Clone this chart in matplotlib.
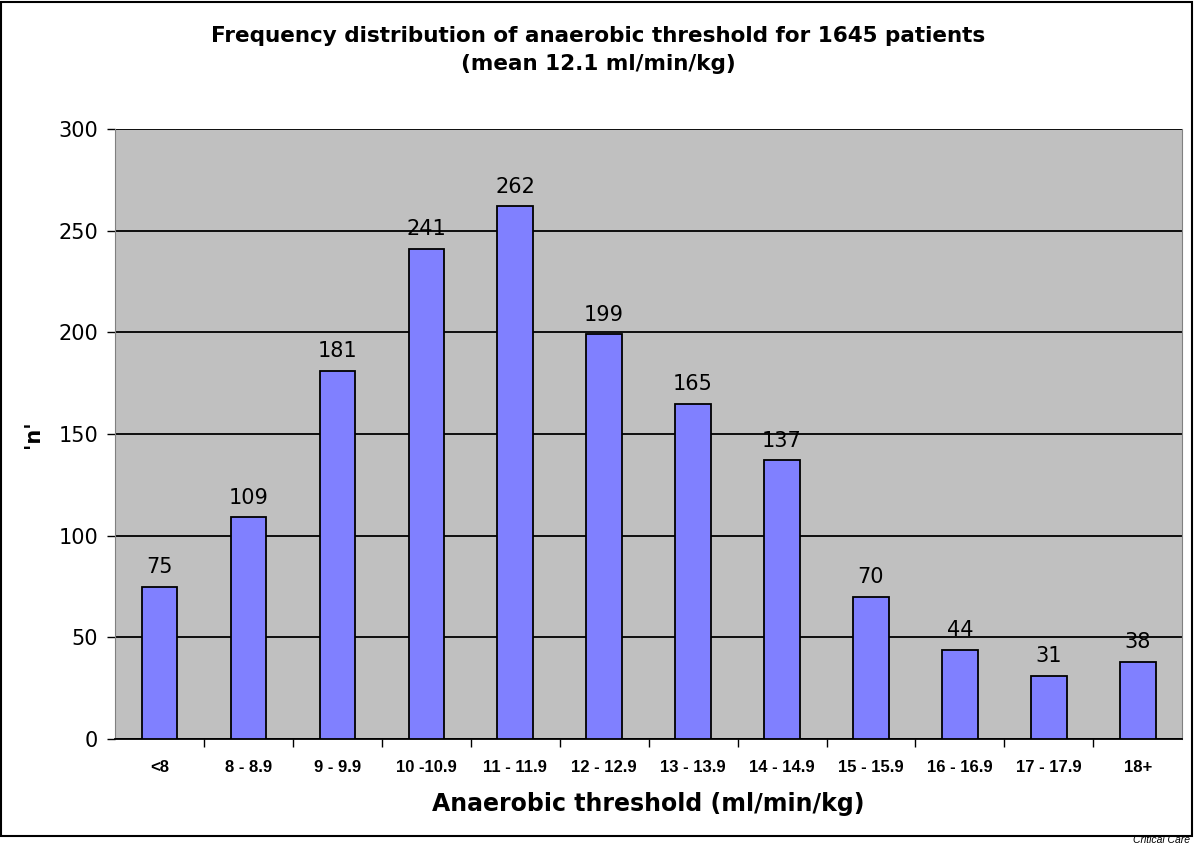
import matplotlib
matplotlib.use("Agg")
import matplotlib.pyplot as plt
from matplotlib.patches import Rectangle

categories = ["<8", "8 - 8.9", "9 - 9.9", "10 -10.9", "11 - 11.9", "12 - 12.9",
              "13 - 13.9", "14 - 14.9", "15 - 15.9", "16 - 16.9", "17 - 17.9", "18+"]
counts = [75, 109, 181, 241, 262, 199, 165, 137, 70, 44, 31, 38]
y_ticks = [0, 50, 100, 150, 200, 250, 300]

fig = plt.figure(figsize=(11.97, 8.48), dpi=100)
ax = fig.add_axes([0.0961, 0.1285, 0.8916, 0.7194])
ax.set_facecolor("#c0c0c0")

x = list(range(len(categories)))
bars = ax.bar(x, counts, width=0.4, color="#8080ff", edgecolor="black",
              linewidth=1.3, zorder=3)
for b, v in zip(bars, counts):
    ax.annotate(f"{v}", xy=(b.get_x() + b.get_width() / 2, v),
                xytext=(0, 7), textcoords="offset points",
                ha="center", va="bottom", fontsize=15, zorder=4)

ax.set_xlim(-0.5, len(categories) - 0.5)
ax.set_ylim(0, 300)
ax.set_yticks(y_ticks)
ax.set_yticklabels([str(t) for t in y_ticks], fontsize=15)
ax.yaxis.grid(True, color="black", linewidth=1.3, zorder=1)
ax.set_axisbelow(True)

ax.set_xticks(x)
ax.set_xticklabels(categories, fontsize=12, fontweight="bold",
                   family="Liberation Sans")
ax.set_xticks([i + 0.5 for i in x[:-1]], minor=True)
ax.tick_params(axis="x", which="major", length=0, pad=15)
ax.tick_params(axis="x", which="minor", length=6, color="black", width=1)
ax.tick_params(axis="y", length=6, color="black", width=1, pad=6)

for side in ["left", "right"]:
    ax.spines[side].set_color("#808080")
ax.spines["top"].set_visible(False)
ax.spines["bottom"].set_color("black")
ax.spines["bottom"].set_linewidth(1.3)

ax.set_xlabel("Anaerobic threshold (ml/min/kg)", fontsize=17,
              fontweight="bold", labelpad=12)
ax.set_ylabel("'n'", fontsize=15, fontweight="bold", labelpad=11)

fig.text(0.5, 0.958, "Frequency distribution of anaerobic threshold for 1645 patients",
         ha="center", va="center", fontsize=15.5, fontweight="bold")
fig.text(0.5, 0.925, "(mean 12.1 ml/min/kg)",
         ha="center", va="center", fontsize=15.5, fontweight="bold")

fig.patches.append(Rectangle((0.001, 0.014), 0.995, 0.984, transform=fig.transFigure,
                             fill=False, edgecolor="black", linewidth=1.5))
fig.text(0.994, 0.004, "Critical Care", ha="right", va="bottom", fontsize=7.5,
         style="italic", family="Liberation Sans")

fig.savefig("out.png", dpi=100)
plt.close(fig)
